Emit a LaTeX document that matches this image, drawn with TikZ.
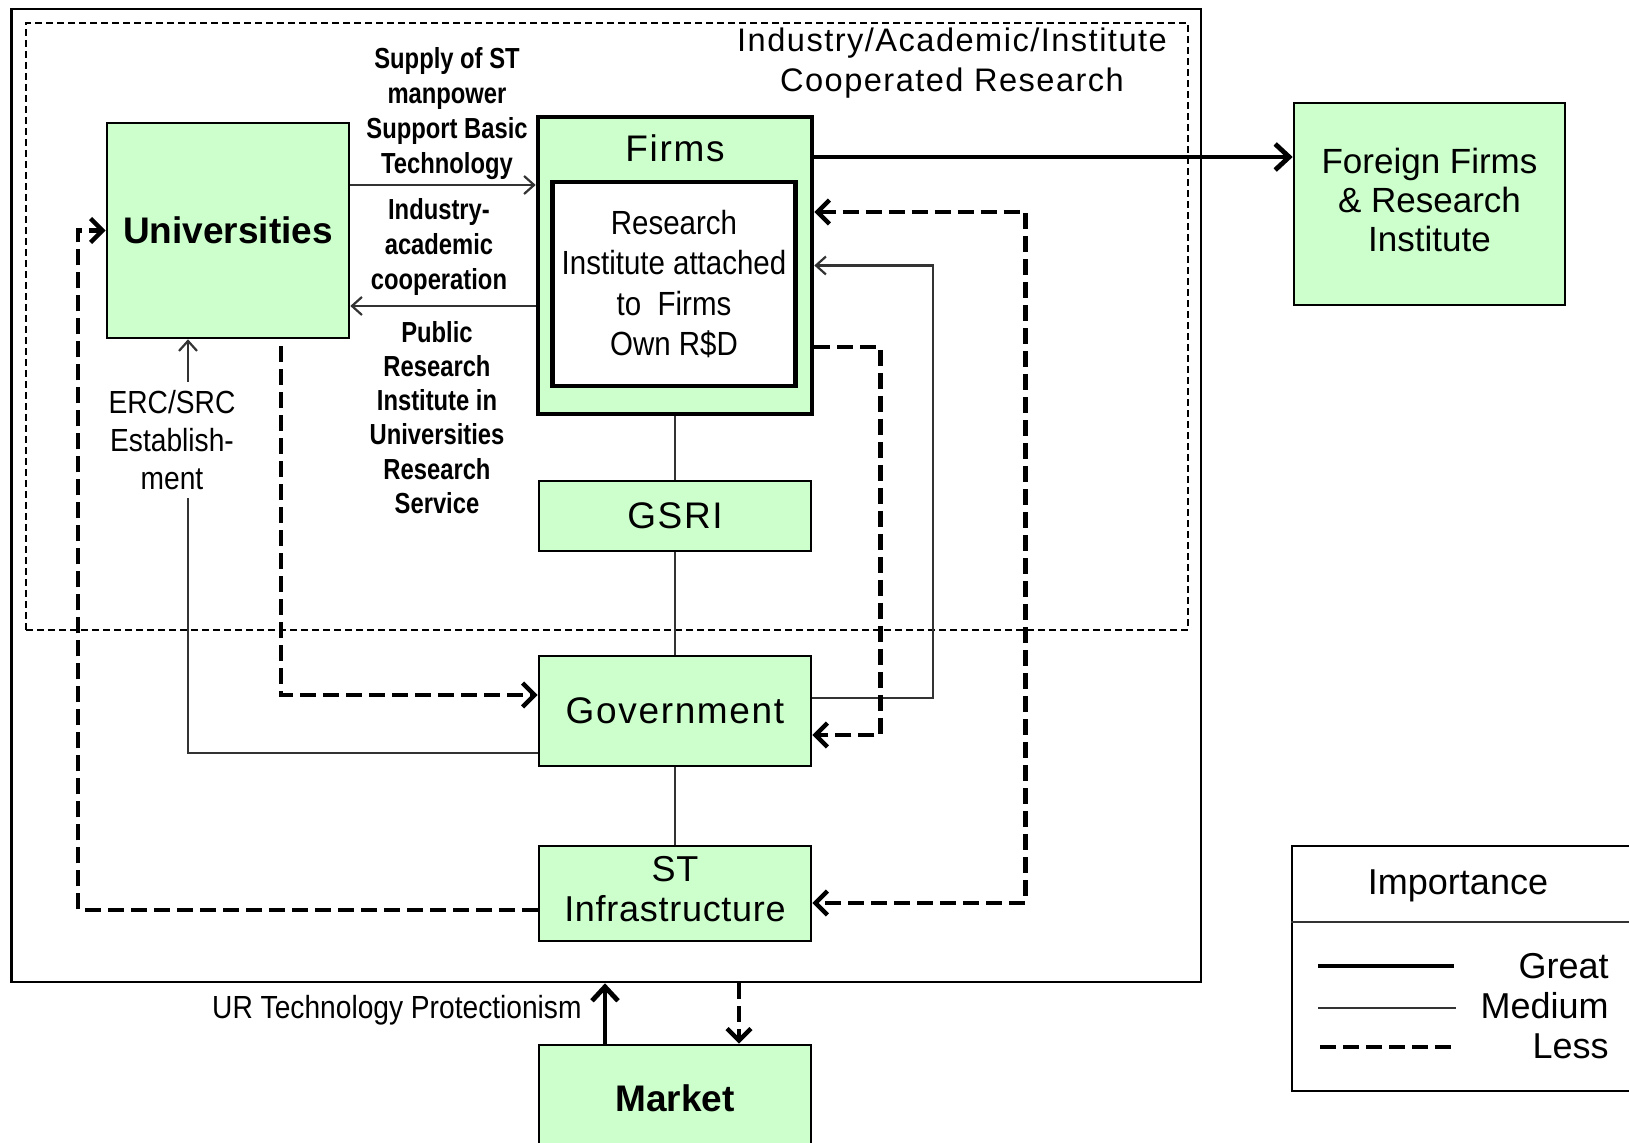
\documentclass[tikz,border=0pt]{standalone}
\usepackage{fontspec}
\setmainfont{Liberation Sans}
% condensed cuts for the small connector labels
\newfontfamily\narrowA{Liberation Sans}[FakeStretch=0.82]
\newfontfamily\narrowB{Liberation Sans}[FakeStretch=0.88]
% slightly tracked faces for box captions
\newfontfamily\spaced{Liberation Sans}[LetterSpace=4.5]
\newfontfamily\spacedlite{Liberation Sans}[LetterSpace=2]
\usetikzlibrary{arrows.meta}
\definecolor{boxgreen}{HTML}{CCFFCC}

\begin{document}
\begin{tikzpicture}[x=0.5pt,y=-0.5pt,
  box/.style={draw=black, line width=1.3pt, fill=boxgreen, inner sep=0pt,
    align=center, font=\spaced\fontsize{18.5}{20.5}\selectfont},
  frame/.style={draw=black, line width=1.3pt, inner sep=0pt},
  coopframe/.style={draw=black, line width=0.9pt, dash pattern=on 3.5pt off 2pt, inner sep=0pt},
  great/.style={line width=2.4pt, draw=black},
  medium/.style={line width=1.1pt, draw=black!80},
  less/.style={line width=2.2pt, draw=black, dash pattern=on 8pt off 3.5pt},
  tipM/.style={-{Straight Barb[length=5pt,width=9pt]}},
  tipL/.style={-{Straight Barb[length=6pt,width=12pt]}},
  tipLL/.style={{Straight Barb[length=6pt,width=12pt]}-{Straight Barb[length=6pt,width=12pt]}},
  tipG/.style={-{Straight Barb[length=7pt,width=13pt]}},
  smallbold/.style={align=center, inner sep=0pt, font=\narrowA\bfseries\fontsize{14.5}{17.5}\selectfont},
]
\useasboundingbox (0,0) rectangle (1629,1143);
\clip (0,0) rectangle (1629,1143);

% enclosing frames
\node[frame, minimum width=594.75pt, minimum height=486.5pt] (system) at (606.25,495.5) {};
\node[coopframe, minimum width=581pt, minimum height=303.5pt] (coop) at (607,326.5) {};
\node[align=center, inner sep=0pt, font=\spaced\fontsize{16.3}{20}\selectfont] (cooptitle) at (952,63)
  {Industry/Academic/Institute\\Cooperated Research};

% actors
\node[box, minimum width=121pt, minimum height=107.5pt,
  font=\bfseries\fontsize{18.5}{21}\selectfont] (univ) at (228,230.5) {Universities};
\node[box, line width=2.3pt, minimum width=137pt, minimum height=148.5pt] (firms) at (675,265.5) {};
\node[inner sep=0pt, font=\spaced\fontsize{18.5}{20.5}\selectfont] (firmslabel) at (675,148) {Firms};
\node[draw=black, fill=white, line width=2.2pt, inner sep=0pt, align=center,
  minimum width=121.5pt, minimum height=102pt,
  font=\narrowB\fontsize{16.75}{20.15}\selectfont] (rinst) at (674,284)
  {Research\\Institute attached\\to~ Firms\\Own R\$D};
\node[box, minimum width=136pt, minimum height=35pt] (gsri) at (675,516) {GSRI};
\node[box, minimum width=136pt, minimum height=55pt] (gov) at (675,711) {Government};
\node[box, minimum width=136pt, minimum height=47.5pt] (stinf) at (675,893.5) {};
\node[align=center, inner sep=0pt, font=\spacedlite\fontsize{18}{20}\selectfont] (stlabel)
  at (675,889) {ST\\Infrastructure};
\node[box, minimum width=136pt, minimum height=53pt,
  font=\bfseries\fontsize{18.5}{21}\selectfont] (market) at (675,1098) {Market};
\node[box, minimum width=135.5pt, minimum height=101pt] (foreign) at (1429.5,204) {};
\node[align=center, inner sep=0pt, font=\fontsize{17.5}{19.7}\selectfont] (foreignlabel)
  at (1429.5,200) {Foreign Firms\\\& Research\\Institute};

% connectors between universities and firms
\coordinate (u1) at ([yshift=22.75pt]univ.east);
\draw[medium, tipM] (u1) -- (u1 -| firms.west);
\coordinate (f1) at ([yshift=-20.25pt]firms.west);
\draw[medium, tipM] (f1) -- (f1 -| univ.east);

% firms to foreign partners
\coordinate (f0) at ([yshift=23.5pt]foreign.west);
\draw[great, tipG] (f0 -| firms.east) -- (f0);

% vertical chain
\draw[medium] (firms.south) -- (gsri.north);
\draw[medium] (gsri.south) -- (gov.north);
\draw[medium] (gov.south) -- (stinf.north);

% universities to government
\draw[less, tipL] ([xshift=26.5pt,yshift=-3.5pt]univ.south) |- ([yshift=8pt]gov.west);
\draw[medium, tipM] ([yshift=-21pt]gov.west) -| ([xshift=-20pt]univ.south);

% government and firms
\draw[medium, tipM] ([yshift=6.5pt]gov.east) -- ++(60.5pt,0) |- (firms.east);
\draw[less, tipL] ([yshift=-40.75pt]firms.east) -- ++(33pt,0) |- ([yshift=-12pt]gov.east);

% firms and infrastructure
\draw[less, tipLL] ([yshift=26.75pt]firms.east) -- ++(105.5pt,0) |- ([yshift=-4.75pt]stinf.east);

% infrastructure back to universities
\draw[less, tipL] ([yshift=-8.25pt]stinf.west) -| ([xshift=-13.75pt]univ.west) -- (univ.west);

% market links
\coordinate (m1) at ([xshift=-35pt]market.north);
\draw[great, tipG] (m1) -- (m1 |- system.south);
\coordinate (m2) at ([xshift=32pt]market.north);
\draw[less, tipL] (m2 |- system.south) -- (m2);

% connector labels
\node[smallbold] (lsupply) at (447,113.5) {Supply of ST\\manpower\\Support Basic\\Technology};
\node[smallbold] (lcoop) at (439,247) {Industry-\\academic\\cooperation};
\node[smallbold, font=\narrowA\bfseries\fontsize{14.5}{17.1}\selectfont] (lpublic) at (437,417.5)
  {Public\\Research\\Institute in\\Universities\\Research\\Service};
\node[fill=white, align=center, inner xsep=2pt, inner ysep=4pt,
  font=\narrowB\fontsize{16}{19}\selectfont] (lerc) at (172,440) {ERC/SRC\\Establish-\\ment};
\node[anchor=east, inner sep=0pt, font=\narrowB\fontsize{16}{19}\selectfont] (lur) at (582,1010)
  {UR Technology Protectionism};

% legend
\node[frame, minimum width=174pt, minimum height=122.5pt] (legend) at (1466,968.5) {};
\draw[line width=1.4pt, black!80] ([yshift=23.25pt]legend.west) -- ([yshift=23.25pt]legend.east);
\node[inner sep=0pt, font=\fontsize{18}{20}\selectfont] (limp) at (1458,886) {Importance};
\coordinate (lg1) at (1318,966); \coordinate (lg2) at (1454,966);
\coordinate (lm1) at (1318,1008); \coordinate (lm2) at (1456,1008);
\coordinate (ll1) at (1320,1047); \coordinate (ll2) at (1454,1047);
\draw[great] (lg1) -- (lg2);
\draw[medium] (lm1) -- (lm2);
\draw[less] (ll1) -- (ll2);
\node[anchor=east, inner sep=0pt, font=\fontsize{18}{20}\selectfont] (lgreat) at (1609,966) {Great};
\node[anchor=east, inner sep=0pt, font=\fontsize{18}{20}\selectfont] (lmed) at (1609,1006) {Medium};
\node[anchor=east, inner sep=0pt, font=\fontsize{18}{20}\selectfont] (lless) at (1609,1046) {Less};
\end{tikzpicture}
\end{document}
